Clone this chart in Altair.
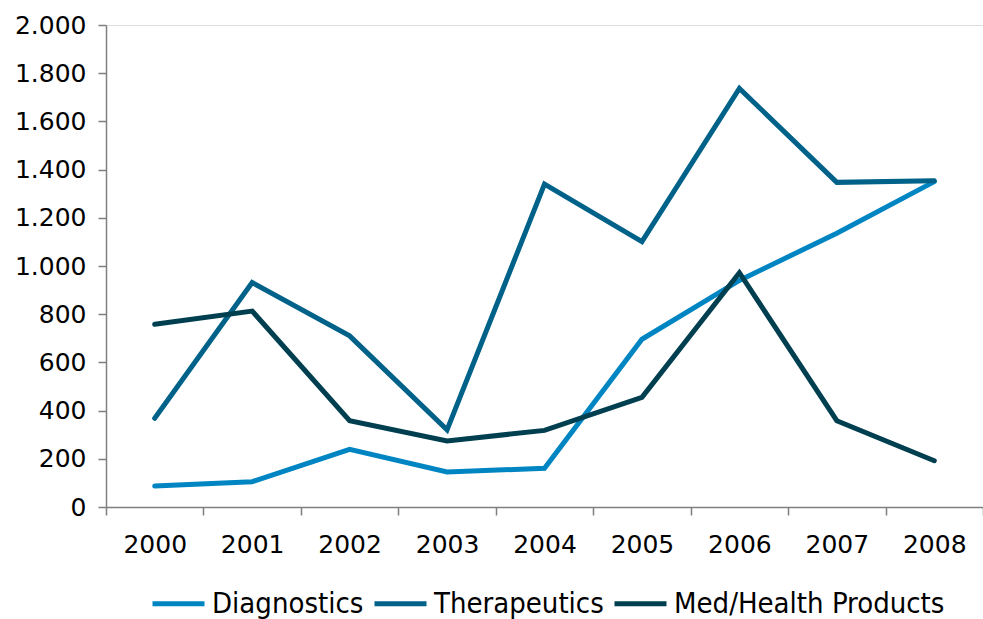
import altair as alt
import pandas as pd

# Annual values per segment
years = ["2000", "2001", "2002", "2003", "2004", "2005", "2006", "2007", "2008"]
diagnostics = [87, 105, 239, 145, 161, 696, 940, 1136, 1350]
therapeutics = [368, 931, 710, 320, 1340, 1101, 1737, 1347, 1354]
med_health = [758, 813, 358, 274, 318, 455, 972, 358, 192]

series_names = ["Diagnostics", "Therapeutics", "Med/Health Products"]
series_colors = ["#0085C3", "#006189", "#003F50"]
y_ticks = [0, 200, 400, 600, 800, 1000, 1200, 1400, 1600, 1800, 2000]

rows = []
for name, values in zip(series_names, [diagnostics, therapeutics, med_health]):
    for yr, v in zip(years, values):
        rows.append({"year": yr, "value": v, "series": name})
df = pd.DataFrame(rows)

FONT = "DejaVu Sans"
LEGEND_FONT = "DejaVu Sans Condensed"

chart = (
    alt.Chart(df)
    .mark_line(strokeWidth=5, strokeCap="round", strokeJoin="miter")
    .encode(
        x=alt.X(
            "year:N",
            sort=years,
            bandPosition=0.5,
            scale=alt.Scale(type="band", paddingInner=0, paddingOuter=0),
            axis=alt.Axis(
                title=None,
                labelAngle=0,
                tickBand="extent",
                tickSize=8,
                labelPadding=17,
                labelFontSize=25,
                labelFont=FONT,
                labelColor="#000000",
                domainColor="#7f7f7f",
                tickColor="#7f7f7f",
                domainWidth=1.5,
                tickWidth=1.5,
            ),
        ),
        y=alt.Y(
            "value:Q",
            scale=alt.Scale(domain=[0, 2000], nice=False),
            axis=alt.Axis(
                title=None,
                values=y_ticks,
                grid=False,
                tickSize=8,
                labelPadding=12,
                labelFontSize=25,
                labelFont=FONT,
                labelColor="#000000",
                domainColor="#7f7f7f",
                tickColor="#7f7f7f",
                domainWidth=1.5,
                tickWidth=1.5,
                labelExpr="replace(format(datum.value, ','), ',', '.')",
            ),
        ),
        color=alt.Color(
            "series:N",
            sort=series_names,
            scale=alt.Scale(domain=series_names, range=series_colors),
            legend=alt.Legend(
                title=None,
                orient="none",
                direction="horizontal",
                legendX=44,
                legendY=550,
                symbolType="stroke",
                symbolSize=2704,
                symbolStrokeWidth=5,
                labelFontSize=29,
                labelFont=LEGEND_FONT,
                labelColor="#000000",
                labelOffset=5,
                columnPadding=0,
                labelLimit=400,
            ),
        ),
    )
    .properties(
        width=877,
        height=482,
        autosize=alt.AutoSizeParams(type="none"),
        padding={"left": 106, "top": 25, "right": 0, "bottom": 112},
    )
    .configure_view(stroke=None)
    .configure(background="#ffffff")
)

chart.save("out.html", embed_options={"renderer": "svg", "actions": False})
